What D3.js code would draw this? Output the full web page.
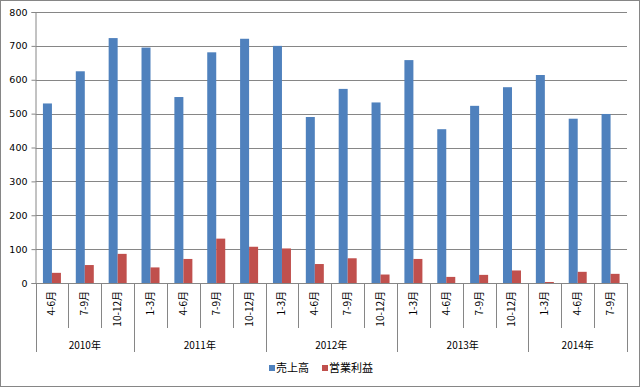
<!DOCTYPE html>
<head>
<meta charset="utf-8">
<script src="https://d3js.org/d3.v7.min.js"></script>
<style>
  body { margin: 0; background: #fff; }
  text { font-family: "Noto Sans CJK JP", "DejaVu Sans", sans-serif; fill: #000; }
</style>
</head>
<body>
<div id="chart"></div>
<script>
// quarters and years (2010 Q2 .. 2014 Q3)
var quarters = ["4-6月", "7-9月", "10-12月",
                "1-3月", "4-6月", "7-9月", "10-12月",
                "1-3月", "4-6月", "7-9月", "10-12月",
                "1-3月", "4-6月", "7-9月", "10-12月",
                "1-3月", "4-6月", "7-9月"];
var years = ["2010年", "2011年", "2012年", "2013年", "2014年"];
var yearSpans = [3, 4, 4, 4, 3];
var sales  = [530, 625, 723, 695, 549, 681, 721, 700, 490, 573, 533, 658, 454, 523, 578, 614, 485, 499];
var profit = [30, 53, 86, 46, 71, 131, 107, 102, 56, 73, 25, 71, 18, 24, 37, 3, 33, 27];
var seriesNames = ["売上高", "営業利益"];
var colors = ["#4F81BD", "#C0504D"];
var yTicks = [0, 100, 200, 300, 400, 500, 600, 700, 800];

var W = 640, H = 387;
var plotL = 35.5, plotR = 627, plotT = 12, plotB = 283;

var svg = d3.select("#chart").append("svg")
    .attr("width", W).attr("height", H);

// chart border
svg.append("rect")
    .attr("x", 0.5).attr("y", 0.5)
    .attr("width", W - 1).attr("height", H - 1)
    .attr("fill", "#fff").attr("stroke", "#868686");

var idx = quarters.map(function(d, i) { return i; });
var x = d3.scaleBand().domain(idx).range([plotL, plotR]).padding(0);
var y = d3.scaleLinear().domain([0, 800]).range([plotB, plotT]);

// gridlines
svg.append("g").selectAll("line")
    .data(yTicks.slice(1))
    .enter().append("line")
    .attr("x1", plotL).attr("x2", plotR)
    .attr("y1", function(d) { return Math.round(y(d)) + 0.5; })
    .attr("y2", function(d) { return Math.round(y(d)) + 0.5; })
    .attr("stroke", "#868686");

// y axis
var yAxis = svg.append("g")
    .attr("transform", "translate(" + plotL + ",0)")
    .call(d3.axisLeft(y).tickValues(yTicks).tickSize(4).tickPadding(4));
yAxis.select(".domain").attr("stroke", "#868686");
yAxis.selectAll(".tick line").attr("stroke", "#868686");
yAxis.selectAll(".tick text")
    .style("font-family", "'DejaVu Sans', sans-serif")
    .style("font-size", "9.5px");

// bars
var bw = 9;
[sales, profit].forEach(function(vals, s) {
  svg.append("g").selectAll("rect")
    .data(vals)
    .enter().append("rect")
    .attr("x", function(d, i) { return x(i) + (x.bandwidth() - 2 * bw) / 2 + s * bw; })
    .attr("y", function(d) { return y(d); })
    .attr("width", bw)
    .attr("height", function(d) { return y(0) - y(d); })
    .attr("fill", colors[s]);
});

// x axis line
svg.append("line")
    .attr("x1", plotL).attr("x2", plotR)
    .attr("y1", plotB + 0.5).attr("y2", plotB + 0.5)
    .attr("stroke", "#868686");

// category separators
var starts = [0];
yearSpans.forEach(function(n, i) { starts.push(starts[i] + n); });
svg.append("g").selectAll("line")
    .data(d3.range(quarters.length + 1))
    .enter().append("line")
    .attr("x1", function(i) { return Math.round(plotL + i * x.step()) + 0.5; })
    .attr("x2", function(i) { return Math.round(plotL + i * x.step()) + 0.5; })
    .attr("y1", plotB)
    .attr("y2", function(i) { return starts.indexOf(i) >= 0 ? 352 : 328; })
    .attr("stroke", "#868686");

// quarter labels
svg.append("g").selectAll("text")
    .data(quarters)
    .enter().append("text")
    .attr("transform", function(d, i) {
      return "translate(" + (x(i) + x.bandwidth() / 2 + 3.5) + ",291) rotate(-90)";
    })
    .attr("text-anchor", "end")
    .style("font-size", "10px")
    .text(function(d) { return d; });

// year labels
svg.append("g").selectAll("text")
    .data(years)
    .enter().append("text")
    .attr("x", function(d, i) { return plotL + (starts[i] + yearSpans[i] / 2) * x.step(); })
    .attr("y", 349)
    .attr("text-anchor", "middle")
    .style("font-size", "10px")
    .text(function(d) { return d; });

// legend
var legendX = [269, 322];
var legend = svg.selectAll(".legend")
    .data(seriesNames)
    .enter().append("g")
    .attr("class", "legend")
    .attr("transform", function(d, i) { return "translate(" + legendX[i] + ",368)"; });
legend.append("rect")
    .attr("x", 0).attr("y", -3)
    .attr("width", 6).attr("height", 6)
    .attr("fill", function(d, i) { return colors[i]; });
legend.append("text")
    .attr("x", 7).attr("y", 4)
    .style("font-size", "11px")
    .text(function(d) { return d; });
</script>
</body>
</html>
